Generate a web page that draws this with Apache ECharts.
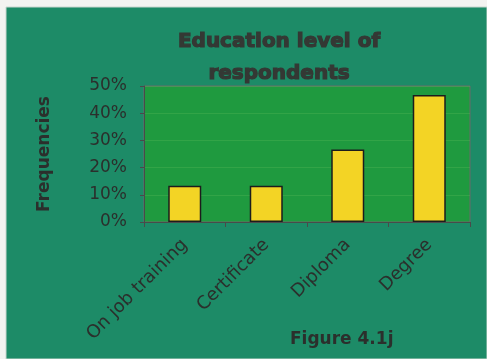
<!DOCTYPE html>
<html>
<head>
<meta charset="utf-8">
<script src="https://cdn.jsdelivr.net/npm/echarts@6/dist/echarts.min.js"></script>
<style>
  html, body { margin: 0; padding: 0; background: #f3f3f1; }
  #chart { width: 487px; height: 359px; }
</style>
</head>
<body>
<div id="chart"></div>
<script>
// Education level categories and their share of respondents (%)
const categories = ['On job training', 'Certificate', 'Diploma', 'Degree'];
const frequencies = [13.3, 13.3, 26.7, 46.7];
// Percentage ticks on the value axis
const yTicks = [0, 10, 20, 30, 40, 50];

const FONT = 'DejaVu Sans';
const TEXT = '#2b2f2c';

const chart = echarts.init(document.getElementById('chart'), null, { renderer: 'canvas' });

chart.setOption({
  backgroundColor: '#f3f3f1',
  animation: false,
  graphic: [
    {
      type: 'rect',
      z: -10,
      shape: { x: 6, y: 7, width: 481, height: 352 },
      style: { fill: '#1d8b67', stroke: '#c9d6cf', lineWidth: 1 }
    },
    {
      type: 'text',
      left: 290,
      top: 331,
      style: {
        text: 'Figure 4.1j',
        font: 'bold 17px "' + FONT + '"',
        fill: TEXT
      }
    }
  ],
  title: {
    text: 'Education level of\nrespondents',
    left: 274,
    top: 21,
    textAlign: 'center',
    textStyle: {
      fontFamily: FONT,
      fontWeight: 'bold',
      fontSize: 20,
      lineHeight: 32,
      color: '#343834',
      textBorderColor: '#343834',
      textBorderWidth: 1.2
    }
  },
  grid: {
    left: 144,
    right: 17,
    top: 86,
    bottom: 137,
    show: true,
    backgroundColor: '#1f9a3f',
    borderColor: '#6b6b6b',
    borderWidth: 1
  },
  xAxis: {
    type: 'category',
    data: categories,
    boundaryGap: true,
    axisLine: { lineStyle: { color: '#4a4a4a', width: 1 } },
    axisTick: { show: true, length: 5, lineStyle: { color: '#4a4a4a' } },
    axisLabel: {
      rotate: 45,
      margin: 20,
      fontFamily: FONT,
      fontSize: 18,
      color: TEXT,
      interval: 0
    }
  },
  yAxis: {
    type: 'value',
    min: yTicks[0],
    max: yTicks[yTicks.length - 1],
    interval: yTicks[1] - yTicks[0],
    name: 'Frequencies',
    nameLocation: 'middle',
    nameGap: 91,
    nameRotate: 90,
    nameTextStyle: {
      fontFamily: FONT,
      fontWeight: 'bold',
      fontSize: 17,
      color: TEXT
    },
    axisLine: { show: true, lineStyle: { color: '#4a4a4a', width: 1 } },
    axisTick: { show: true, length: 4, lineStyle: { color: '#4a4a4a' } },
    axisLabel: {
      formatter: '{value}%',
      margin: 17,
      fontFamily: FONT,
      fontSize: 17,
      color: TEXT
    },
    splitLine: { show: true, lineStyle: { color: 'rgba(140,210,110,0.18)', width: 1 } }
  },
  series: [
    {
      type: 'bar',
      data: frequencies,
      barWidth: 33,
      itemStyle: {
        color: '#f3d425',
        borderColor: '#1c1c1c',
        borderWidth: 1.5
      }
    }
  ]
});
</script>
</body>
</html>
